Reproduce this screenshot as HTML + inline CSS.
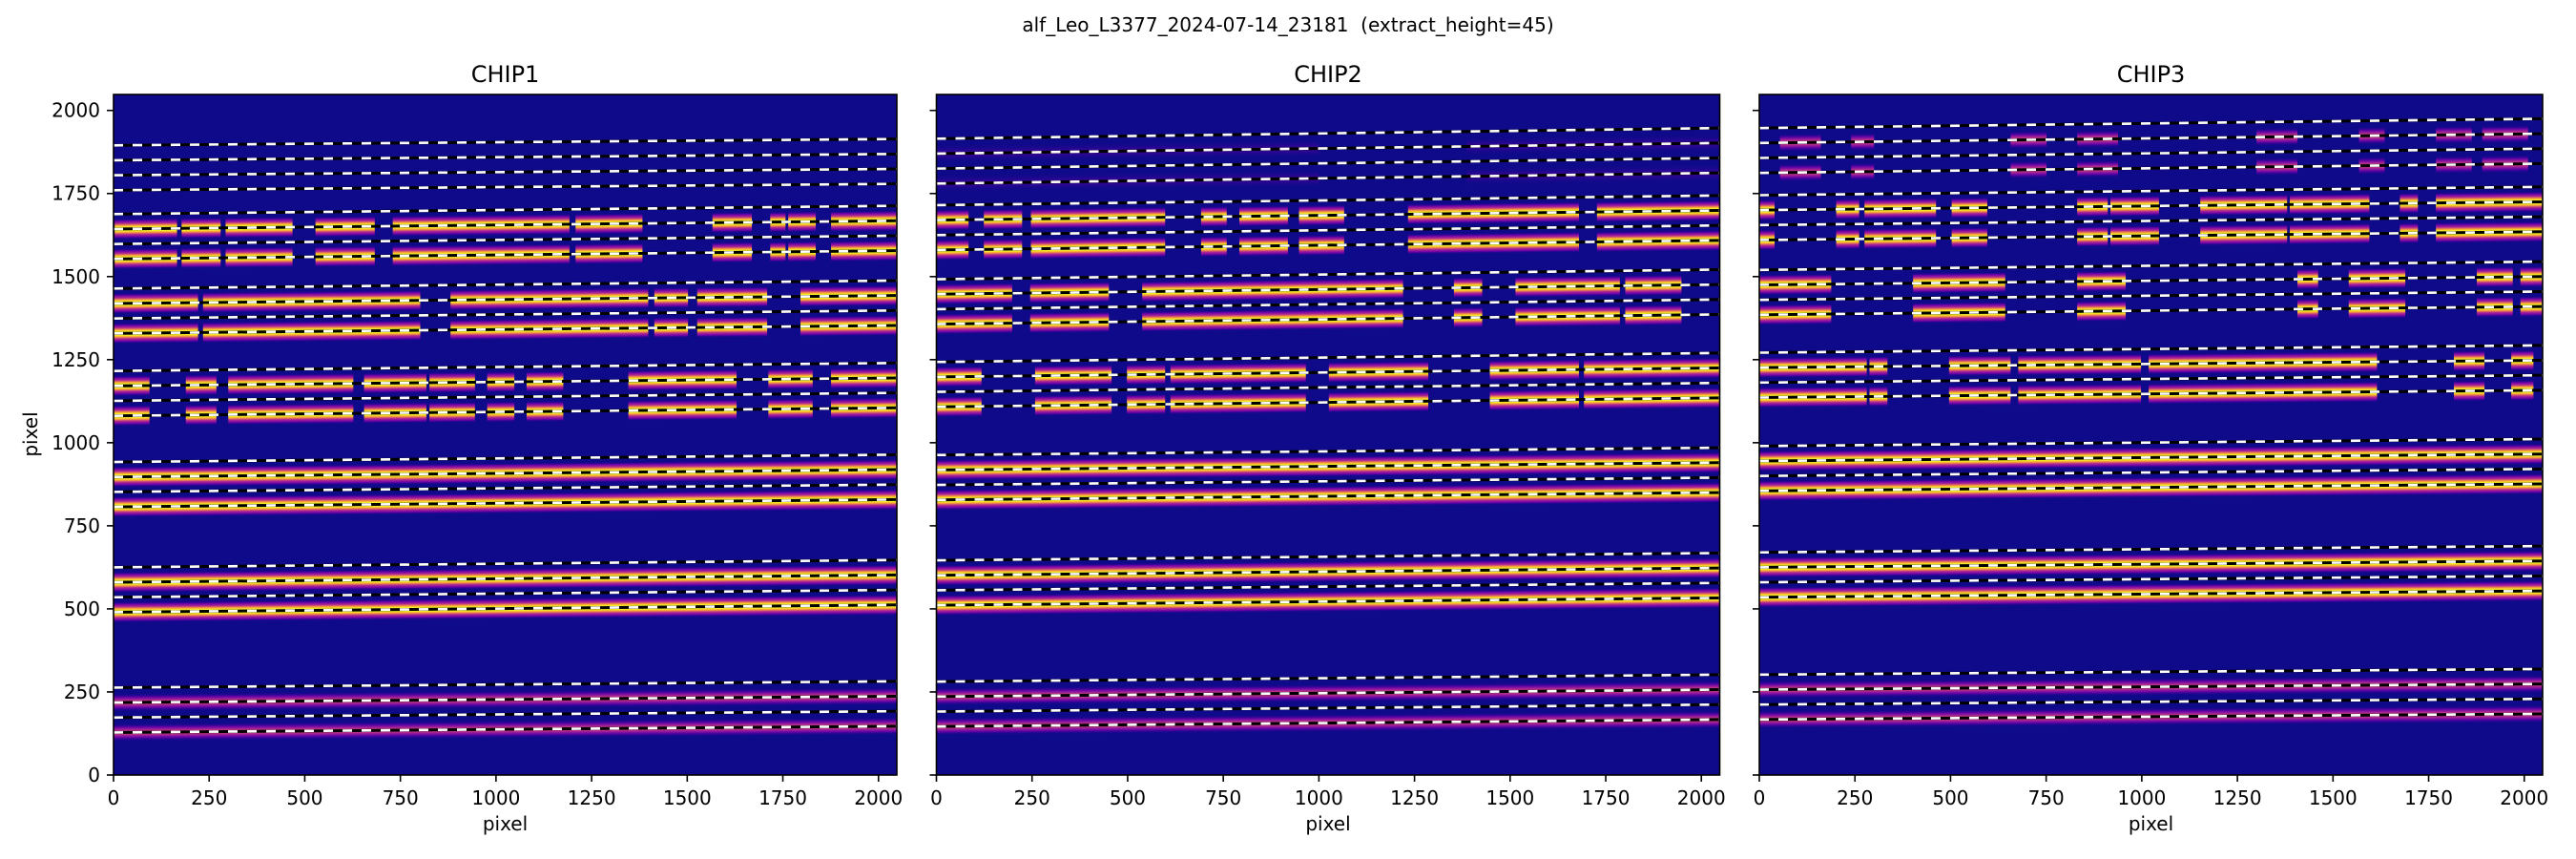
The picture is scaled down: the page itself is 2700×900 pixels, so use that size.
<!DOCTYPE html>
<html><head><meta charset="utf-8"><style>
html,body{margin:0;padding:0;background:#fff;}
body{width:2700px;height:900px;overflow:hidden;position:relative;font-family:"DejaVu Sans","Liberation Sans",sans-serif;}
</style></head><body>
<svg id="s" width="2700" height="900" xmlns="http://www.w3.org/2000/svg" style="position:absolute;left:0;top:0">
<defs>
<linearGradient id="gB" x1="0" y1="0" x2="0" y2="1">
<stop offset="0" stop-color="#0d0887" stop-opacity="0"/>
<stop offset="0.12" stop-color="#6a00a8"/>
<stop offset="0.24" stop-color="#b12a90"/>
<stop offset="0.34" stop-color="#fca636"/>
<stop offset="0.42" stop-color="#f0f921"/>
<stop offset="0.58" stop-color="#f0f921"/>
<stop offset="0.66" stop-color="#fca636"/>
<stop offset="0.76" stop-color="#b12a90"/>
<stop offset="0.88" stop-color="#6a00a8"/>
<stop offset="1" stop-color="#0d0887" stop-opacity="0"/>
</linearGradient>
<linearGradient id="gM" x1="0" y1="0" x2="0" y2="1">
<stop offset="0" stop-color="#0d0887" stop-opacity="0"/>
<stop offset="0.2" stop-color="#5c01a6"/>
<stop offset="0.38" stop-color="#b12a90"/>
<stop offset="0.5" stop-color="#e16462"/>
<stop offset="0.62" stop-color="#b12a90"/>
<stop offset="0.8" stop-color="#5c01a6"/>
<stop offset="1" stop-color="#0d0887" stop-opacity="0"/>
</linearGradient>
<linearGradient id="gF" x1="0" y1="0" x2="0" y2="1">
<stop offset="0" stop-color="#0d0887" stop-opacity="0"/>
<stop offset="0.5" stop-color="#6a00a8" stop-opacity="0.6"/>
<stop offset="1" stop-color="#0d0887" stop-opacity="0"/>
</linearGradient>
</defs>
<text x="1350" y="33" font-size="20" text-anchor="middle" style="white-space:pre" xml:space="preserve">alf_Leo_L3377_2024-07-14_23181  (extract_height=45)</text>
</svg>
<script>
const S=document.getElementById('s');const NS='http://www.w3.org/2000/svg';
function el(t,a,p){const e=document.createElementNS(NS,t);for(const k in a)e.setAttribute(k,a[k]);(p||S).appendChild(e);return e;}
const W=821,H=713,T=99,B=812;
const F=[[0,2048]];
const chips=[
{x:119,name:'CHIP1',g:[
[1895,19,[],'n'],
[1688,25,[[3,166],[178,280],[293,468],[528,683],[730,1192],[1208,1383],[1566,1669],[1717,1757],[1764,1836],[1876,2048]],'b'],
[1464,24,[[0,221],[234,802],[881,1398],[1414,1502],[1526,1709],[1796,2048]],'b'],
[1216,24,[[0,94],[189,269],[300,627],[655,818],[826,945],[977,1048],[1080,1176],[1346,1629],[1712,1828],[1876,2048]],'b'],
[942,22,F,'b'],[625,22,F,'b'],[263,19,F,'m']]},
{x:981.5,name:'CHIP2',g:[
[1915,32,[[0,1000],[1386,2048]],'f'],
[1715,29,[[0,84],[124,224],[247,598],[692,759],[792,919],[948,1066],[1233,1680],[1727,2048]],'b'],
[1492,29,[[0,198],[245,451],[538,1220],[1353,1427],[1514,1787],[1801,1948]],'b'],
[1243,27,[[0,118],[258,458],[498,598],[612,966],[1026,1286],[1447,1680],[1693,2048]],'b'],
[963,22,F,'b'],[646,22,F,'b'],[281,21,F,'m']]},
{x:1844,name:'CHIP3',g:[
[1947,28,[[54,161],[240,300],[657,751],[831,938],[1300,1407],[1568,1635],[1769,1863],[1890,2010]],'m'],
[1745,25,[[0,40],[201,261],[275,462],[503,596],[831,911],[918,1045],[1153,1380],[1387,1595],[1675,1722],[1769,2048]],'b'],
[1520,25,[[0,188],[402,643],[831,958],[1407,1461],[1541,1689],[1876,1970],[1990,2048]],'b'],
[1271,22,[[0,281],[288,335],[496,657],[677,998],[1018,1615],[1816,1896],[1966,2024]],'b'],
[990,21,F,'b'],[670,19,F,'b'],[302,17,F,'m']]}
];
const sx=W/2048,sy=H/2048;
chips.forEach((c,ci)=>{
 const g=el('g',{transform:`translate(${c.x},${T})`});
 el('rect',{x:0,y:0,width:W,height:H,fill:'#0f0a8a'},g);
 const cp=el('clipPath',{id:'c'+ci},g);el('rect',{x:0,y:0,width:W,height:H},cp);
 const inner=el('g',{'clip-path':`url(#c${ci})`},g);
 c.g.forEach(gr=>{
  const [top,sl,segs,kind]=gr;
  const k=-(sl*sy)/W;
  [top-45,top-135].forEach(by=>{
   if(kind==='n')return;
   const fill=kind==='b'?'url(#gB)':kind==='m'?'url(#gM)':'url(#gF)';
   const hh=kind==='b'?11:9.5;
   const sk=el('g',{transform:`matrix(1,${k},0,1,0,${H-by*sy})`},inner);
   segs.forEach(s=>{el('rect',{x:s[0]*sx,y:-hh,width:(s[1]-s[0])*sx,height:2*hh,fill:fill},sk);});
  });
  for(let i=0;i<4;i++){
   const y0=top-i*45,y1=y0+sl;
   const a={x1:0,y1:H-y0*sy,x2:W,y2:H-y1*sy};
   el('line',Object.assign({stroke:'#000','stroke-width':3},a),inner);
   el('line',Object.assign({stroke:'#fff','stroke-width':2.6,'stroke-dasharray':'10 10'},a),inner);
  }
 });
 el('rect',{x:0,y:0,width:W,height:H,fill:'none',stroke:'#000','stroke-width':1.6},g);
 for(let v=0;v<=2000;v+=250){
  const px=v*sx, py=H-v*sy;
  el('line',{x1:px,y1:H,x2:px,y2:H+7,stroke:'#000','stroke-width':1.6},g);
  el('line',{x1:0,y1:py,x2:-7,y2:py,stroke:'#000','stroke-width':1.6},g);
  const t=el('text',{x:px,y:H+31,'font-size':20,'text-anchor':'middle'},g);t.textContent=v;
  if(ci===0){const t2=el('text',{x:-14,y:py+7,'font-size':20,'text-anchor':'end'},g);t2.textContent=v;}
 }
 const tt=el('text',{x:W/2,y:-13,'font-size':24,'text-anchor':'middle'},g);tt.textContent=c.name;
 const xl=el('text',{x:W/2,y:H+58,'font-size':20,'text-anchor':'middle'},g);xl.textContent='pixel';
});
const yl=el('text',{x:0,y:0,'font-size':20,'text-anchor':'middle',transform:'translate(39,455) rotate(-90)'});yl.textContent='pixel';
</script>
</body></html>
